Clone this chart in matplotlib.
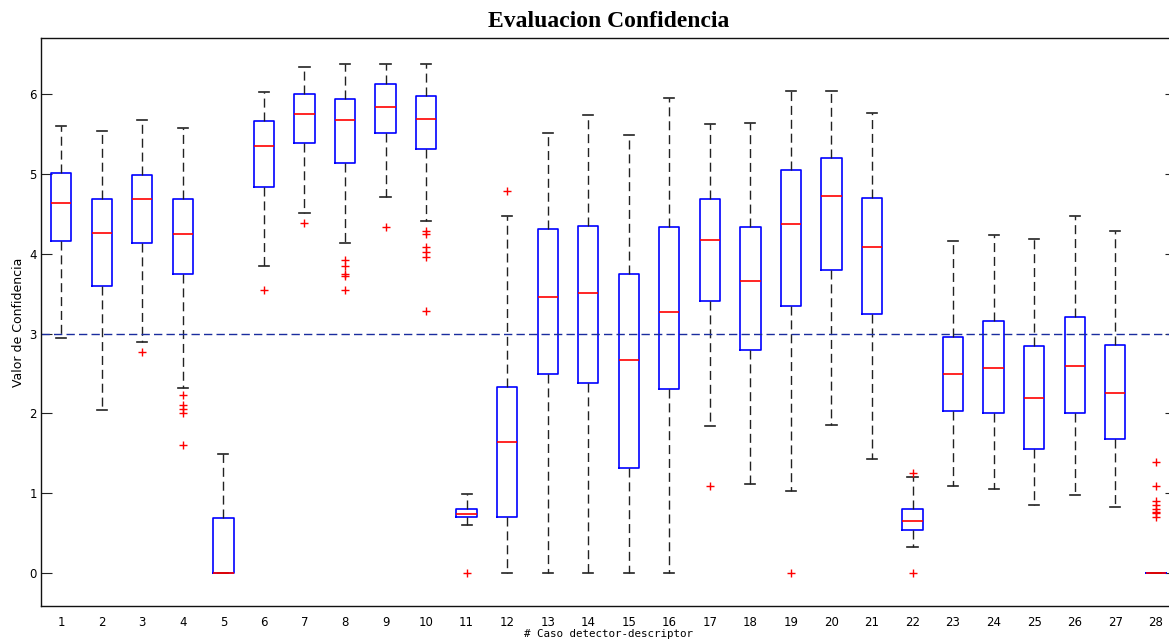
import matplotlib
matplotlib.use("Agg")
import matplotlib.pyplot as plt

# Five-number summaries of the confidence value for each detector-descriptor case
cases = list(range(1, 29))
whisker_low = [2.95, 2.04, 2.89, 2.32, 0.00, 3.85, 4.51, 4.14, 4.71, 4.41,
               0.61, 0.00, 0.00, 0.00, 0.00, 0.00, 1.84, 1.12, 1.03, 1.86,
               1.43, 0.33, 1.09, 1.06, 0.85, 0.98, 0.83, 0.00]
q1 = [4.16, 3.60, 4.13, 3.74, 0.00, 4.84, 5.38, 5.13, 5.51, 5.31,
      0.70, 0.71, 2.49, 2.38, 1.32, 2.31, 3.41, 2.79, 3.34, 3.80,
      3.25, 0.54, 2.03, 2.00, 1.55, 2.01, 1.68, 0.00]
median = [4.64, 4.26, 4.68, 4.25, 0.00, 5.35, 5.75, 5.67, 5.84, 5.69,
          0.74, 1.64, 3.46, 3.51, 2.67, 3.27, 4.17, 3.66, 4.37, 4.72,
          4.09, 0.66, 2.50, 2.57, 2.19, 2.59, 2.26, 0.00]
q3 = [5.01, 4.69, 4.99, 4.69, 0.69, 5.66, 6.00, 5.94, 6.12, 5.97,
      0.81, 2.33, 4.31, 4.35, 3.75, 4.33, 4.69, 4.33, 5.05, 5.20,
      4.70, 0.80, 2.96, 3.16, 2.84, 3.21, 2.86, 0.00]
whisker_high = [5.60, 5.53, 5.67, 5.57, 1.49, 6.02, 6.34, 6.37, 6.37, 6.37,
                0.99, 4.47, 5.51, 5.74, 5.48, 5.95, 5.62, 5.64, 6.04, 6.04,
                5.76, 1.20, 4.16, 4.23, 4.18, 4.47, 4.29, 0.00]
outliers = [
    [], [], [2.77], [2.23, 2.10, 2.05, 2.00, 1.60], [],
    [3.55], [4.39], [3.92, 3.85, 3.75, 3.72, 3.55], [4.33],
    [4.29, 4.25, 4.08, 4.02, 3.96, 3.28],
    [0.00], [4.78], [], [], [], [], [1.09], [], [0.00], [],
    [], [1.25, 0.00], [], [], [], [], [],
    [1.39, 1.09, 0.90, 0.85, 0.80, 0.77, 0.75, 0.71],
]
threshold = 3.0

stats = [
    dict(whislo=lo, q1=a, med=m, q3=b, whishi=hi, fliers=f)
    for lo, a, m, b, hi, f in zip(whisker_low, q1, median, q3, whisker_high, outliers)
]

fig = plt.figure(figsize=(11.69, 6.41), dpi=100)
ax = fig.add_axes([41 / 1169, 1 - 606 / 641, 1135 / 1169, 568 / 641])

ax.bxp(
    stats,
    positions=cases,
    widths=0.5,
    capwidths=0.25,
    boxprops=dict(color="#0000ff", linewidth=1.2),
    medianprops=dict(color="#ff0000", linewidth=1.2),
    whiskerprops=dict(color="#222222", linewidth=1.0, linestyle=(0, (6.5, 3.5))),
    capprops=dict(color="#222222", linewidth=1.2),
    flierprops=dict(marker="+", markeredgecolor="#ff0000", markersize=6,
                    markeredgewidth=1.0, linestyle="none"),
    manage_ticks=False,
)

ax.axhline(threshold, color="#1a2d9e", linewidth=1.0, linestyle=(0, (6, 3)))

ax.set_xlim(0.5, 28.5)
ax.set_ylim(-0.41, 6.70)
ax.set_xticks(cases)
ax.set_xticklabels([str(c) for c in cases])
ax.set_yticks(range(0, 7))

ax.tick_params(axis="y", direction="in", length=7.9, width=0.8, color="#222222",
               left=True, right=True, labelsize=8.5, pad=3)
ax.tick_params(axis="x", length=0, labelsize=8.5, pad=7)

for side in ("left", "bottom", "top", "right"):
    ax.spines[side].set_color("#111111")
    ax.spines[side].set_linewidth(1.0)

ax.set_title("Evaluacion Confidencia", fontsize=17, fontweight="bold",
             family="Liberation Serif", pad=8)
ax.set_ylabel("Valor de Confidencia", fontsize=9, labelpad=3)
ax.set_xlabel("# Caso detector-descriptor", fontsize=7.8,
              family="DejaVu Sans Mono", labelpad=0)

fig.savefig("out.png", dpi=100)
